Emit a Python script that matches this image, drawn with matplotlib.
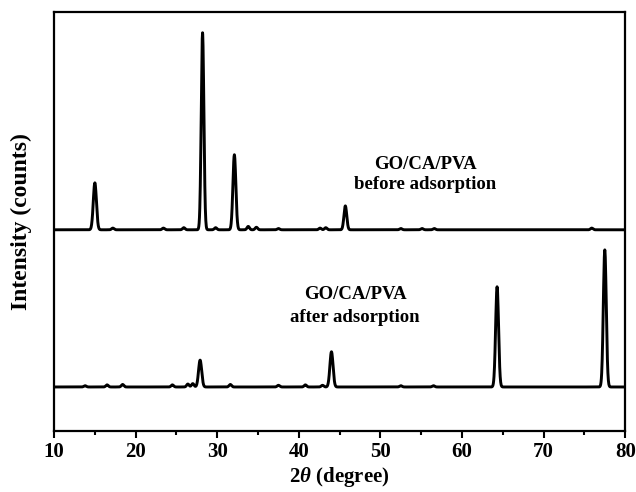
import numpy as np
import matplotlib.pyplot as plt

plt.rcParams['font.family'] = ['Liberation Serif', 'DejaVu Serif']
plt.rcParams['font.weight'] = 'bold'
plt.rcParams['mathtext.fontset'] = 'custom'
plt.rcParams['mathtext.it'] = 'Liberation Serif:italic:bold'

# reflections: 2theta (deg), height (counts), fwhm (deg)
before_pos = [15.0, 28.2, 32.1, 45.7]
before_height = [112, 470, 179, 57]
before_fwhm = [0.45, 0.38, 0.42, 0.4]
before_minor_pos = [17.2, 23.4, 25.9, 29.8, 33.8, 34.8, 37.5, 42.6, 43.3, 52.5, 55.1, 56.6, 75.9]
before_minor_height = [4, 4, 5, 5, 8, 6, 3, 4, 5, 3, 3, 3, 4]
before_offset = 480

after_pos = [27.9, 44.0, 64.3, 77.5]
after_height = [64, 84, 239, 327]
after_fwhm = [0.45, 0.45, 0.42, 0.42]
after_minor_pos = [13.8, 16.5, 18.4, 24.5, 26.4, 27.0, 31.6, 37.5, 40.8, 42.9, 52.5, 56.5]
after_minor_height = [3, 5, 6, 5, 7, 8, 6, 4, 5, 4, 3, 3]
after_offset = 105

two_theta = np.arange(10, 80.001, 0.02)


def pattern(pos, height, fwhm, minor_pos, minor_height):
    y = np.zeros_like(two_theta)
    for p, h, w in zip(pos, height, fwhm):
        s = w / 2.355
        y += h * np.exp(-0.5 * ((two_theta - p) / s) ** 2)
    for p, h in zip(minor_pos, minor_height):
        y += h * np.exp(-0.5 * ((two_theta - p) / 0.15) ** 2)
    return y


before = pattern(before_pos, before_height, before_fwhm, before_minor_pos, before_minor_height)
after = pattern(after_pos, after_height, after_fwhm, after_minor_pos, after_minor_height)

fig = plt.figure(figsize=(6.36, 4.92), dpi=100)
ax = fig.add_axes([0.085, 0.124, 0.898, 0.852])

ax.plot(two_theta, before + before_offset, color='k', lw=2.1)
ax.plot(two_theta, after + after_offset, color='k', lw=2.1)

ax.text(55.5, 612, 'GO/CA/PVA\nbefore adsorption', ha='center', va='center',
        fontsize=13.5, fontweight='bold', linespacing=1.3)
ax.text(46.9, 298, 'GO/CA/PVA\nafter adsorption', ha='center', va='center',
        fontsize=13.5, fontweight='bold', linespacing=1.5)

ax.set_xlim(10, 80)
ax.set_ylim(0, 1000)
ax.set_xticks(np.arange(10, 81, 10))
ax.set_xticks(np.arange(15, 80, 10), minor=True)
ax.set_yticks([])
ax.tick_params(axis='x', which='major', direction='out', length=5, width=1.5,
               labelsize=15, pad=3)
ax.tick_params(axis='x', which='minor', direction='out', length=3, width=1.5)
for lab in ax.get_xticklabels():
    lab.set_fontweight('bold')
for sp in ax.spines.values():
    sp.set_linewidth(1.6)

ax.set_xlabel(r'2$\theta$ (degree)', fontsize=15, fontweight='bold', labelpad=2)
ax.set_ylabel('Intensity (counts)', fontsize=17, fontweight='bold', labelpad=16)

fig.savefig('out.png', dpi=100)
